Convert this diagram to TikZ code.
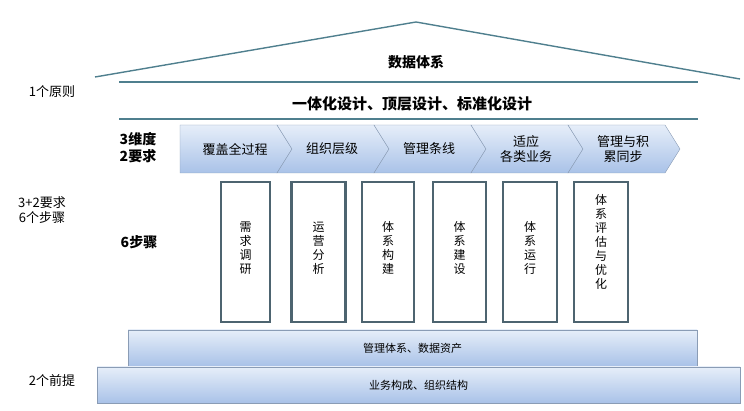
\documentclass[tikz,border=0pt]{standalone}
\usepackage{fontspec}
\setmainfont{Noto Sans CJK SC}
\usetikzlibrary{positioning}
\definecolor{roofc}{HTML}{4F7F8E}
\definecolor{pilc}{HTML}{4D6470}
\definecolor{bluetop}{HTML}{E6EEF9}
\definecolor{bluebot}{HTML}{A9C2E8}
\definecolor{edgec}{HTML}{8A9CB5}
\tikzset{
  lbl/.style={font=\fontsize{13}{15}\selectfont, align=center},
  boldlbl/.style={font=\fontsize{14}{17}\selectfont\bfseries, align=center},
  pillar/.style={draw=pilc, line width=2.2pt, fill=white, font=\fontsize{12}{14}\selectfont, align=center},
  slab/.style={draw=edgec, top color=bluetop, bottom color=bluebot, font=\fontsize{11}{13}\selectfont},
  chev/.style={draw=edgec, top color=bluetop, bottom color=bluebot}
}
\begin{document}
\begin{tikzpicture}[x=1pt, y=-1pt]
\useasboundingbox (0,0) rectangle (744,411);
% roof
\coordinate (rl) at (95,77);
\coordinate (rt) at (416,22);
\coordinate (rr) at (740,79);
\draw[roofc, line width=1.4pt] (rl) -- (rt) -- (rr);
\node[boldlbl] (sys) at (416,62) {数据体系};
\draw[roofc, line width=1.4pt] (119,82) -- (698,82);
\node[boldlbl, font=\fontsize{15}{18}\selectfont\bfseries] (prin) at (412,104) {一体化设计、顶层设计、标准化设计};
\draw[roofc, line width=1.4pt] (119,119) -- (698,119);

% chevrons
\foreach \i/\txt in {0/覆盖全过程, 1/组织层级, 2/管理条线, 3/适应\\各类业务, 4/管理与积\\累同步}{
  \pgfmathsetmacro{\xa}{180+\i*97}
  \pgfmathsetmacro{\xb}{\xa+97}
  \ifnum\i=0
    \draw[chev] (\xa,125) -- (\xb,125) -- (\xb+15,149) -- (\xb,173) -- (\xa,173) -- cycle;
  \else
    \draw[chev] (\xa,125) -- (\xb,125) -- (\xb+15,149) -- (\xb,173) -- (\xa,173) -- (\xa+15,149) -- cycle;
  \fi
  \node[lbl] (c\i) at (\xa+55,149) {\txt};
}

% pillars
\node[pillar, minimum width=49pt, minimum height=140pt] (p1) at (245.5,252) {};
\node[pillar, minimum width=54pt, minimum height=140pt] (p2) at (318.5,252) {};
\node[pillar, minimum width=52pt, minimum height=140pt] (p3) at (388,252) {};
\node[pillar, minimum width=53pt, minimum height=140pt] (p4) at (459.5,252) {};
\node[pillar, minimum width=54pt, minimum height=140pt] (p5) at (530,252) {};
\node[pillar, minimum width=54pt, minimum height=140pt] (p6) at (601,252) {};
\node[pillar, draw=none, fill=none] at (245.5,248) {需\\求\\调\\研};
\node[pillar, draw=none, fill=none] at (318.5,248) {运\\营\\分\\析};
\node[pillar, draw=none, fill=none] at (388,248) {体\\系\\构\\建};
\node[pillar, draw=none, fill=none] at (459.5,248) {体\\系\\建\\设};
\node[pillar, draw=none, fill=none] at (530,248) {体\\系\\运\\行};
\node[pillar, draw=none, fill=none] at (601,242) {体\\系\\评\\估\\与\\优\\化};

% base slabs
\node[slab, minimum width=569pt, minimum height=36pt] (b1) at (412.5,348) {管理体系、数据资产};
\node[slab, minimum width=643pt, minimum height=36pt] (b2) at (418.5,385) {业务构成、组织结构};

% left labels
\node[lbl] (l1) at (52,92) {1个原则};
\node[lbl] (l2) at (42,210) {3+2要求\\6个步骤};
\node[lbl] (l3) at (52,381) {2个前提};
\node[boldlbl] (l4) at (138,148) {3维度\\2要求};
\node[boldlbl] (l5) at (139,242) {6步骤};
\end{tikzpicture}
\end{document}
